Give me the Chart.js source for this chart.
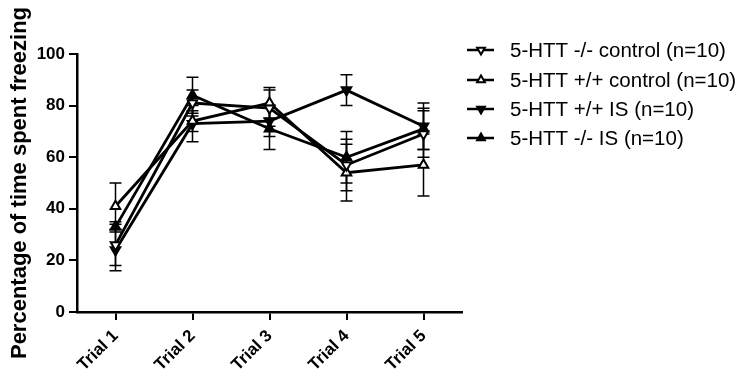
<!DOCTYPE html>
<html>
<head>
<meta charset="utf-8">
<script src="https://cdn.jsdelivr.net/npm/chart.js@4"></script>
<style>
  html, body { margin: 0; padding: 0; background: #fff; }
  #wrap { width: 746px; height: 371px; }
</style>
</head>
<body>
<div id="wrap"><canvas id="freezing_chart"></canvas></div>
<script>
var trials = ['Trial 1', 'Trial 2', 'Trial 3', 'Trial 4', 'Trial 5']

// mean % freezing and SEM per group
var koControl = [26, 81, 79, 57, 69]
var koControlErr = [8, 5, 7, 10, 9]
var wtControl = [41, 74, 81, 54, 57]
var wtControlErr = [9, 4, 6, 11, 12]
var wtIS = [24, 73, 74, 86, 72]
var wtISErr = [8, 7, 6, 6, 9]
var koIS = [33, 84, 71, 60, 71]
var koISErr = [2, 7, 8, 10, 8]

var FONT = 'Arial, "Liberation Sans", sans-serif'

function series(label, data, err, down, filled) {
    return {
        label: label,
        data: data,
        err: err,
        borderColor: '#000',
        backgroundColor: '#000',
        borderWidth: 2.8,
        pointStyle: 'triangle',
        pointRotation: down ? 180 : 0,
        pointRadius: 5.5,
        pointBorderWidth: 2,
        pointBackgroundColor: filled ? '#000' : '#fff',
        pointBorderColor: '#000',
        tension: 0,
        fill: false
    }
}

var ds = [
    series('5-HTT -/- control (n=10)', koControl, koControlErr, true, false),
    series('5-HTT +/+ control (n=10)', wtControl, wtControlErr, false, false),
    series('5-HTT +/+ IS (n=10)', wtIS, wtISErr, true, true),
    series('5-HTT -/- IS (n=10)', koIS, koISErr, false, true)
]

// SEM whiskers, drawn under the markers
var errorBars = {
    id: 'errorBars',
    beforeDatasetsDraw: function (chart) {
        var ctx = chart.ctx
        var x = chart.scales.x, y = chart.scales.y
        ctx.save()
        ctx.strokeStyle = '#000'
        ctx.lineWidth = 1.5
        chart.data.datasets.forEach(function (d) {
            d.data.forEach(function (v, i) {
                var px = x.getPixelForValue(i)
                var top = y.getPixelForValue(v + d.err[i])
                var bot = y.getPixelForValue(v - d.err[i])
                ctx.beginPath()
                ctx.moveTo(px, top); ctx.lineTo(px, bot)
                ctx.moveTo(px - 6, top); ctx.lineTo(px + 6, top)
                ctx.moveTo(px - 6, bot); ctx.lineTo(px + 6, bot)
                ctx.stroke()
            })
        })
        ctx.restore()
    }
}

// legend on the right: line sample with marker, then label
var sideLegend = {
    id: 'sideLegend',
    afterDraw: function (chart) {
        var ctx = chart.ctx
        var rows = [50, 80, 109, 138]
        ctx.save()
        chart.data.datasets.forEach(function (d, i) {
            var yy = rows[i]
            ctx.strokeStyle = '#000'
            ctx.lineWidth = 2.5
            ctx.beginPath()
            ctx.moveTo(467, yy); ctx.lineTo(494, yy)
            ctx.stroke()
            ctx.fillStyle = d.pointBackgroundColor
            ctx.lineWidth = 2
            Chart.helpers.drawPoint(ctx, {
                pointStyle: 'triangle', rotation: d.pointRotation, radius: 4.5, borderWidth: 2
            }, 481, yy)
            ctx.fillStyle = '#000'
            ctx.font = '20.5px ' + FONT
            ctx.textBaseline = 'middle'
            ctx.textAlign = 'left'
            ctx.fillText(d.label, 510, yy + 1)
        })
        ctx.restore()
    }
}

var config = {
    type: 'line',
    data: { labels: trials, datasets: ds },
    options: {
        responsive: true,
        maintainAspectRatio: false,
        animation: false,
        layout: { padding: { top: 54, right: 284, bottom: 0, left: 0 } },
        plugins: {
            legend: { display: false },
            tooltip: { enabled: false }
        },
        scales: {
            x: {
                offset: true,
                afterFit: function (s) { s.height = 59 },
                grid: { display: true, drawOnChartArea: false, drawTicks: true, tickLength: 8, color: '#000', lineWidth: 2 },
                border: { display: true, color: '#000', width: 2.5 },
                ticks: {
                    color: '#000', maxRotation: 45, minRotation: 45, padding: 6,
                    font: { family: FONT, size: 17, weight: 'bold' }
                }
            },
            y: {
                min: 0, max: 100,
                afterFit: function (s) { s.width = 77 },
                grid: { display: true, drawOnChartArea: false, drawTicks: true, tickLength: 8, color: '#000', lineWidth: 2 },
                border: { display: true, color: '#000', width: 2.5 },
                ticks: {
                    stepSize: 20, color: '#000', padding: 4,
                    font: { family: FONT, size: 17, weight: 'bold' }
                },
                title: {
                    display: true, text: 'Percentage of time spent freezing', color: '#000',
                    padding: { top: 7, bottom: 0 },
                    font: { family: FONT, size: 22, weight: 'bold' }
                }
            }
        }
    },
    plugins: [errorBars, sideLegend]
}

var myChart = new Chart(document.getElementById('freezing_chart'), config)
</script>
</body>
</html>
